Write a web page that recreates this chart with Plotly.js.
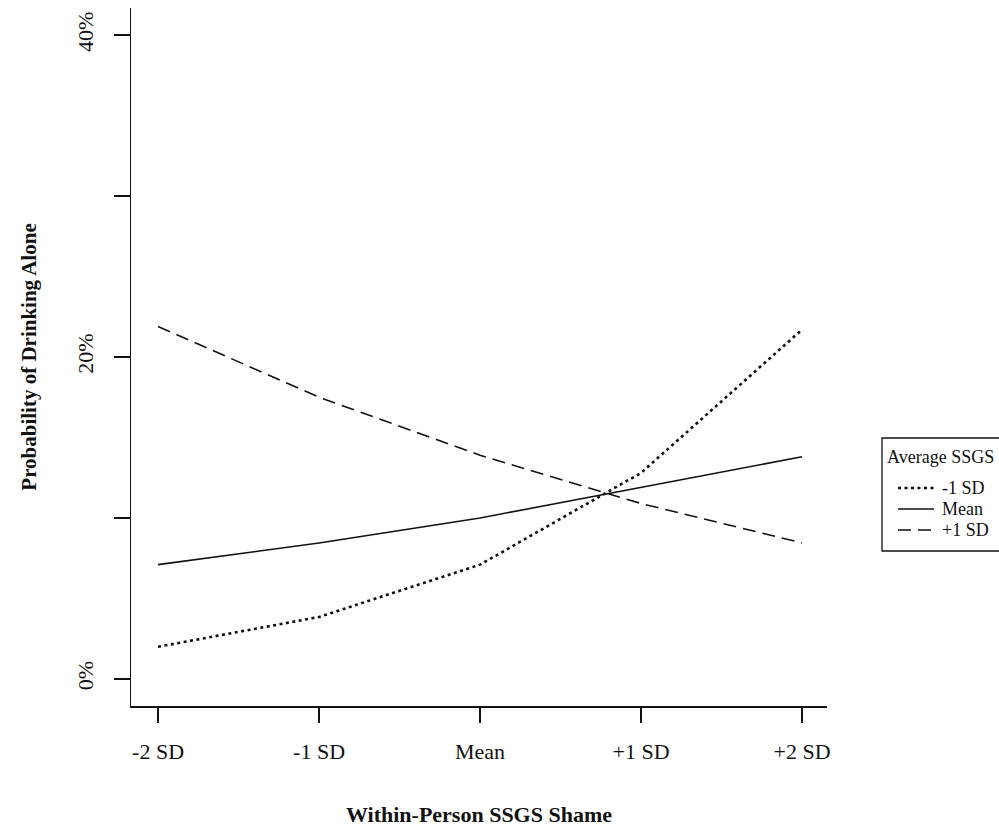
<!DOCTYPE html>
<html>
<head>
<meta charset="utf-8">
<script src="https://cdn.plot.ly/plotly-3.0.1.min.js"></script>
<style>html,body{margin:0;padding:0;background:#fff;}#chart{width:999px;height:831px;}</style>
</head>
<body>
<div id="chart"></div>
<script>
// Data (probabilities in %)
const xPositions = [-2, -1, 0, 1, 2];
const xTickLabels = ['-2 SD', '-1 SD', 'Mean', '+1 SD', '+2 SD'];
const seriesNames = ['-1 SD', 'Mean', '+1 SD'];
const legendTitle = 'Average SSGS';
const lowShame  = [2.0, 3.85, 7.1, 12.8, 21.7];   // Average SSGS -1 SD
const meanShame = [7.1, 8.45, 10.0, 11.9, 13.8];  // Average SSGS Mean
const highShame = [21.9, 17.5, 13.9, 10.9, 8.45]; // Average SSGS +1 SD
const yTickVals = [0, 10, 20, 30, 40];
const yTickText = ['0%', '', '20%', '', '40%'];

const font = 'Liberation Serif, Times New Roman, serif';
const lineStyles = [
  {color: '#111', width: 2.6, dash: '3px,3.5px'},
  {color: '#111', width: 1.6, dash: 'solid'},
  {color: '#111', width: 1.6, dash: '13px,7px'}
];
const seriesValues = [lowShame, meanShame, highShame];

const traces = seriesNames.map((n, i) => ({
  x: xPositions, y: seriesValues[i], name: n, mode: 'lines',
  line: lineStyles[i], showlegend: false
}));

// plot area in pixels (for placing the legend box in the right margin)
const W = 999, H = 831, L = 131, R = 172, T = 8, B = 125;
const pw = W - L - R, ph = H - T - B;
const px = v => (v - L) / pw;
const py = v => (H - B - v) / ph;

const shapes = [
  {type: 'rect', xref: 'paper', yref: 'paper', x0: px(882), x1: px(1010), y0: py(438), y1: py(551),
   line: {color: '#111', width: 1.3}, fillcolor: 'rgba(0,0,0,0)'}
];
const annotations = [
  {xref: 'paper', yref: 'paper', x: px(886), y: py(457), xanchor: 'left', yanchor: 'middle',
   text: legendTitle, showarrow: false, borderpad: 0, font: {family: font, size: 18, color: '#111'}}
];
const rowsY = [488, 509, 530];
seriesNames.forEach((n, i) => {
  shapes.push({type: 'line', xref: 'paper', yref: 'paper', x0: px(898), x1: px(934), y0: py(rowsY[i]), y1: py(rowsY[i]),
    line: {color: lineStyles[i].color, width: lineStyles[i].width, dash: lineStyles[i].dash}});
  annotations.push({xref: 'paper', yref: 'paper', x: px(941), y: py(rowsY[i]), xanchor: 'left', yanchor: 'middle',
    text: n, showarrow: false, borderpad: 0, font: {family: font, size: 18, color: '#111'}});
});

const layout = {
  width: W, height: H,
  paper_bgcolor: '#fff', plot_bgcolor: '#fff',
  margin: {l: L, r: R, t: T, b: B, autoexpand: false},
  font: {family: font, color: '#111', size: 22},
  showlegend: false,
  shapes: shapes,
  annotations: annotations,
  xaxis: {
    range: [-2.168, 2.155],
    tickvals: xPositions, ticktext: xTickLabels,
    ticks: 'outside', ticklen: 15, tickwidth: 1.5, tickcolor: '#111',
    ticklabelstandoff: 10,
    showline: true, linecolor: '#111', linewidth: 1.5,
    showgrid: false, zeroline: false,
    tickfont: {family: font, size: 22, color: '#111'},
    title: {text: '<b>Within-Person SSGS Shame</b>', font: {family: font, size: 22, color: '#111'}, standoff: 43}
  },
  yaxis: {
    range: [-1.68, 41.68],
    tickvals: yTickVals, ticktext: yTickText,
    ticks: 'outside', ticklen: 16, tickwidth: 1.5, tickcolor: '#111',
    tickangle: -90, ticklabelstandoff: 12,
    showline: true, linecolor: '#111', linewidth: 1.5,
    showgrid: false, zeroline: false,
    tickfont: {family: font, size: 22, color: '#111'},
    title: {text: '<b>Probability of Drinking Alone</b>', font: {family: font, size: 21, color: '#111'}, standoff: 30}
  }
};

Plotly.newPlot('chart', traces, layout, {displayModeBar: false, staticPlot: true});
</script>
</body>
</html>
